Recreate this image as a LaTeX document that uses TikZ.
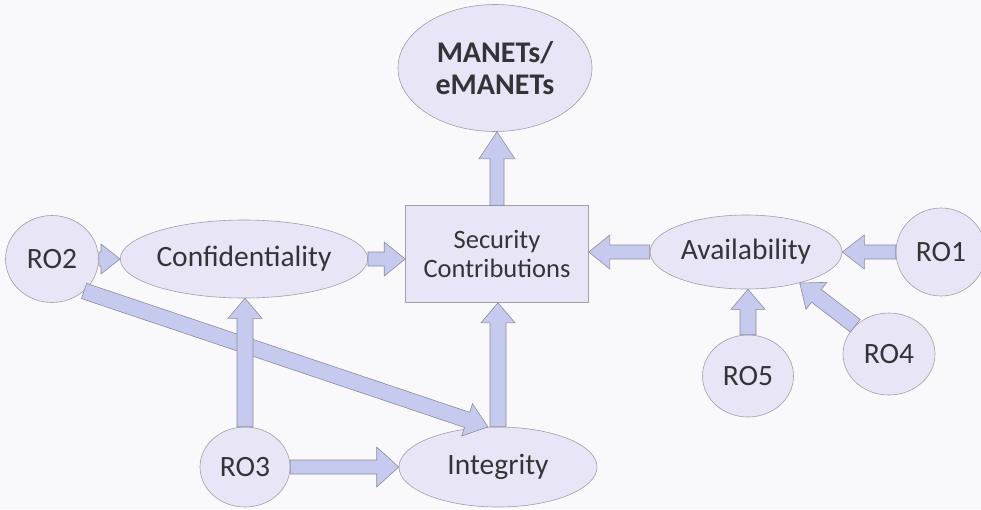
\documentclass[tikz,border=0pt]{standalone}
\usepackage{fontspec}
\setmainfont{Carlito}
\usetikzlibrary{shapes.geometric}

\definecolor{paper}{HTML}{F9F8FB}
\definecolor{nodefill}{HTML}{E8E6F6}
\definecolor{nodeline}{HTML}{A09FAA}
\definecolor{arrowfill}{HTML}{C6CAEE}
\definecolor{arrowline}{HTML}{8C8C9C}
\definecolor{txt}{HTML}{333338}

% Block arrow from #1 to #2: shaft half-width #3, head half-width #4, head length #5 (pt)
\newcommand\blockarrow[5]{%
  \path #1 coordinate (bastart);
  \path #2 coordinate (baend);
  \pgfpointdiff{\pgfpointanchor{bastart}{center}}{\pgfpointanchor{baend}{center}}%
  \pgfgetlastxy{\baDX}{\baDY}%
  \pgfmathsetmacro\baAng{atan2(\baDY,\baDX)}%
  \pgfmathsetmacro\baLen{veclen(\baDX,\baDY)}%
  \begin{scope}[shift={(bastart)}, rotate=\baAng, x=1pt, y=1pt]
    \draw[blockarrow] (0,-#3) -- ({\baLen-#5},-#3) -- ({\baLen-#5},-#4) -- (\baLen,0)
      -- ({\baLen-#5},#4) -- ({\baLen-#5},#3) -- (0,#3) -- cycle;
  \end{scope}}

\tikzset{
  bubble/.style={ellipse, draw=nodeline, fill=nodefill, line width=0.6pt,
    inner sep=0pt, text=txt, font=\fontsize{29.5}{32}\selectfont},
  panel/.style={rectangle, draw=nodeline, fill=nodefill, line width=0.6pt,
    inner sep=0pt, text=txt, align=center, font=\fontsize{26.5}{29}\selectfont},
  blockarrow/.style={draw=arrowline, fill=arrowfill, line width=0.6pt, line join=miter},
}

\begin{document}
\begin{tikzpicture}[x=1pt, y=-1pt]
  \fill[paper] (0,0) rectangle (981,509);
  \useasboundingbox (0,0) rectangle (981,509);

  % outcome and central contributions
  \node[bubble, minimum width=194pt, minimum height=127pt, align=center,
        font=\bfseries\fontsize{30}{32}\selectfont] (manets) at (495,68) {MANETs/\\eMANETs};
  \node[panel, minimum width=183pt, minimum height=97pt] (sec) at (497,254) {Security\\Contributions};

  % security properties
  \node[bubble, minimum width=192pt, minimum height=78pt] (conf)  at (244,259) {Confidentiality};
  \node[bubble, minimum width=192pt, minimum height=74pt] (avail) at (746,252) {Availability};
  \node[bubble, minimum width=198pt, minimum height=80pt] (integ) at (498,467) {Integrity};

  % research objectives
  \node[bubble, minimum width=93pt, minimum height=87pt] (ro2) at (52,259)  {RO2};
  \node[bubble, minimum width=90pt, minimum height=88pt] (ro1) at (941,252) {RO1};
  \node[bubble, minimum width=90pt, minimum height=80pt] (ro3) at (245,467) {RO3};
  \node[bubble, minimum width=92pt, minimum height=82pt] (ro4) at (889,354) {RO4};
  \node[bubble, minimum width=91pt, minimum height=82pt] (ro5) at (748,376) {RO5};

  % connectors
  \blockarrow{(sec.north)}{(sec.north |- manets.south)}{7}{18}{27}
  \blockarrow{(ro2.east)}{(conf.west)}{7}{15}{19}
  \blockarrow{(conf.east)}{(conf.east -| sec.west)}{7}{17}{21}
  \blockarrow{(avail.west)}{(avail.west -| sec.east)}{7}{17}{21}
  \blockarrow{(ro1.west)}{(avail.east)}{7}{17}{22}
  \blockarrow{(ro5.north)}{(ro5.north |- avail.south)}{8}{17}{20}
  \blockarrow{(ro4.140)}{(avail.-30)}{8}{17}{21}
  \blockarrow{(ro2.-45)}{(integ.104)}{8}{17}{22}
  \blockarrow{(ro3.north)}{(ro3.north |- conf.south)}{8}{17}{20}
  \blockarrow{(ro3.east)}{(integ.west)}{7}{20}{22}
  \blockarrow{(integ.north)}{(integ.north |- sec.south)}{8}{17}{20}
\end{tikzpicture}
\end{document}
